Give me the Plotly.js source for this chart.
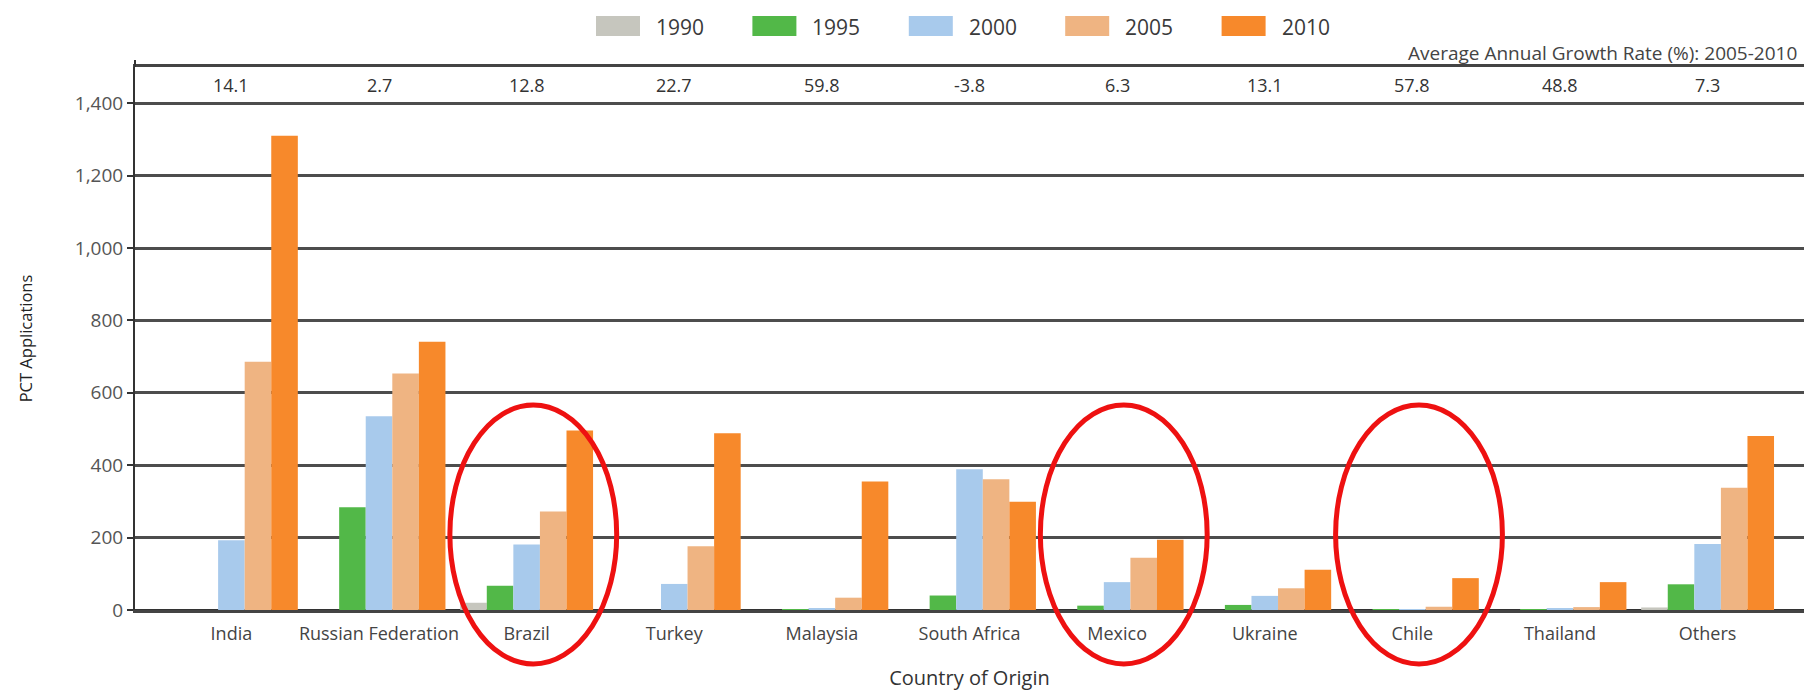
<!DOCTYPE html>
<html>
<head>
<meta charset="utf-8">
<script src="https://cdn.plot.ly/plotly-3.0.1.min.js"></script>
<style>
  html, body { margin: 0; padding: 0; background: #fff; }
  #chart { width: 1804px; height: 691px; }
</style>
</head>
<body>
<div id="chart"></div>
<script>
// ---- Data ----
const categories = ['India', 'Russian Federation', 'Brazil', 'Turkey', 'Malaysia',
  'South Africa', 'Mexico', 'Ukraine', 'Chile', 'Thailand', 'Others'];
const years = ['1990', '1995', '2000', '2005', '2010'];
const values1990 = [0, 0, 20, 0, 0, 0, 0, 0, 0, 0, 7];
const values1995 = [0, 284, 67, 0, 2, 40, 12, 14, 1, 2, 71];
const values2000 = [193, 535, 181, 72, 3, 389, 77, 39, 2, 4, 182];
const values2005 = [686, 653, 272, 176, 34, 361, 144, 60, 9, 8, 338];
const values2010 = [1310, 741, 496, 488, 355, 299, 194, 111, 88, 77, 481];
const growthRates = ['14.1', '2.7', '12.8', '22.7', '59.8', '-3.8', '6.3', '13.1', '57.8', '48.8', '7.3'];
const growthTitle = 'Average Annual Growth Rate (%): 2005-2010';
const highlighted = ['Brazil', 'Mexico', 'Chile'];

// ---- Styles ----
const seriesValues = [values1990, values1995, values2000, values2005, values2010];
const colors = ['#c6c6be', '#52b848', '#a8caec', '#efb482', '#f7892b'];
const FONT = '"Open Sans", "DejaVu Sans", sans-serif';

const W = 1804, H = 691;
const M = { l: 135, r: 0, t: 67, b: 81 };
const plotW = W - M.l - M.r, plotH = H - M.t - M.b;
const px2x = X => (X - M.l) / plotW;
const py2y = Y => (H - M.b - Y) / plotH;

const traces = years.map((yr, i) => ({
  type: 'bar',
  name: yr,
  x: categories,
  y: seriesValues[i],
  marker: { color: colors[i], line: { width: 0 } },
  showlegend: false,
  hoverinfo: 'x+y+name'
}));

const shapes = [];
const annotations = [];

// custom legend (large swatches like the reference)
years.forEach((yr, i) => {
  const step = 156.4;
  const sx = 596 + i * step;
  shapes.push({
    type: 'rect', xref: 'paper', yref: 'paper',
    x0: px2x(sx), x1: px2x(sx + 44), y0: py2y(36), y1: py2y(16),
    fillcolor: colors[i], line: { width: 0 }
  });
  annotations.push({
    xref: 'paper', yref: 'paper', x: px2x(sx + 58), y: py2y(27),
    xanchor: 'left', yanchor: 'middle', showarrow: false, text: yr,
    font: { family: FONT, size: 21, color: '#3a3a3a' }
  });
});

// growth-rate row
categories.forEach((c, i) => {
  annotations.push({
    xref: 'x', yref: 'y', x: c, y: 1450, showarrow: false,
    text: growthRates[i], xanchor: 'center', yanchor: 'middle',
    font: { family: FONT, size: 18, color: '#333' }
  });
});
annotations.push({
  xref: 'paper', yref: 'paper', x: px2x(1799), y: py2y(53),
  xanchor: 'right', yanchor: 'middle', showarrow: false, text: growthTitle,
  font: { family: FONT, size: 19, color: '#444' }
});

// y-axis line extends slightly above the plot top
shapes.push({
  type: 'line', xref: 'paper', yref: 'paper',
  x0: 0, x1: 0, y0: 1, y1: py2y(60),
  line: { color: '#333', width: 2 }
});

// red highlight ellipses
highlighted.forEach(name => {
  const idx = categories.indexOf(name);
  shapes.push({
    type: 'circle', xref: 'x', yref: 'paper', layer: 'above',
    x0: idx - 0.52, x1: idx + 0.61, y0: py2y(664), y1: py2y(405),
    line: { color: '#ee1111', width: 5 }, fillcolor: 'rgba(0,0,0,0)'
  });
});

const layout = {
  width: W, height: H,
  margin: M,
  paper_bgcolor: '#fff', plot_bgcolor: '#fff',
  barmode: 'group', bargap: 0.1, bargroupgap: 0,
  font: { family: FONT, color: '#444' },
  xaxis: {
    type: 'category',
    range: [-0.653, categories.length - 1 + 0.653],
    showgrid: false, showline: true, mirror: true,
    linecolor: '#444', linewidth: 2.5,
    ticks: '', ticklabelstandoff: 6,
    tickfont: { family: FONT, size: 18, color: '#444' },
    title: { text: 'Country of Origin', standoff: 27,
             font: { family: FONT, size: 20, color: '#333' } },
    fixedrange: true
  },
  yaxis: {
    range: [0, 1500], dtick: 200, tickformat: ',d',
    showgrid: true, gridcolor: '#4d4d4d', gridwidth: 2.5,
    zeroline: true, zerolinecolor: '#333', zerolinewidth: 3,
    showline: true, linecolor: '#333', linewidth: 2,
    ticks: 'outside', ticklen: 6, tickwidth: 2, tickcolor: '#333',
    tickfont: { family: FONT, size: 19, color: '#555' },
    title: { text: 'PCT Applications', standoff: 38,
             font: { family: FONT, size: 16.5, color: '#222' } },
    fixedrange: true
  },
  shapes: shapes,
  annotations: annotations
};

Plotly.newPlot('chart', traces, layout, { displayModeBar: false });
</script>
</body>
</html>
